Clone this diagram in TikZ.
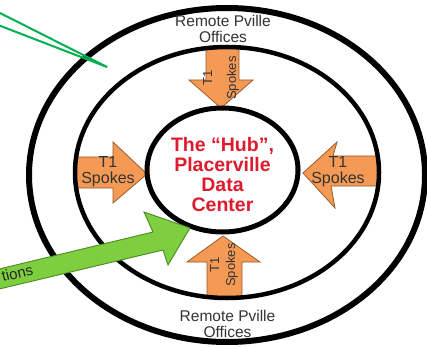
\documentclass[tikz,border=0pt]{standalone}
\usepackage{fontspec}
\setmainfont{Liberation Sans}
\definecolor{spokefill}{HTML}{F59A55}
\definecolor{spokeline}{HTML}{9A5A2C}
\definecolor{hubred}{HTML}{DE1B2D}
\definecolor{limefill}{HTML}{7DCF3F}
\definecolor{limeline}{HTML}{4A8A22}
\definecolor{calloutgreen}{HTML}{00B050}
\definecolor{txtgray}{HTML}{333333}
\begin{document}
\begin{tikzpicture}[x=1pt,y=-1pt,
  ring/.style={draw=black},
  spokeshape/.style={fill=spokefill,draw=spokeline,line width=0.8pt,line join=miter},
  spoketext/.style={align=center,inner sep=0pt,text=txtgray},
  remotetext/.style={align=center,inner sep=0pt,text=txtgray,font=\fontsize{15.5}{16.5}\selectfont},
  hubtext/.style={align=center,inner sep=0pt,text=hubred,font=\fontsize{19.5}{20}\selectfont\bfseries},
  bigarrow/.style={fill=limefill,draw=limeline,line width=0.9pt,line join=miter},
  callout/.style={draw=calloutgreen,line width=2pt}
]
\useasboundingbox (0,0) rectangle (427,347);
\fill[white] (0,0) rectangle (427,347);
\begin{scope}
\clip (0,0) rectangle (427,347);
% orange spokes
\draw[spokeshape] (206,47) -- (239,47) -- (239,80) -- (253,80) -- (221,108) -- (189,80) -- (206,80) -- cycle;
\draw[spokeshape] (207,298) -- (207,262) -- (187,262) -- (223,236) -- (260,262) -- (242,262) -- (242,298) -- cycle;
\draw[spokeshape] (75,157) -- (113,157) -- (113,142) -- (147,174) -- (113,203) -- (113,188) -- (75,188) -- cycle;
\draw[spokeshape] (379,156) -- (333,156) -- (337,142) -- (303,173) -- (335,208) -- (331,186) -- (379,186) -- cycle;
% rings
\draw[ring,line width=6pt] (227,175) ellipse [x radius=198pt, y radius=167pt];
\draw[ring,line width=4.5pt] (227,172.5) ellipse [x radius=152pt, y radius=125.5pt];
\draw[ring,line width=5pt] (222.5,170) ellipse [x radius=75.5pt, y radius=62pt];
% texts
\node[spoketext,rotate=90,font=\fontsize{13}{24}\selectfont] (sptop) at (221,78) {T1\\Spokes};
\node[spoketext,rotate=90,font=\fontsize{13}{16}\selectfont] (spbot) at (224,265) {T1\\Spokes};
\node[spoketext,font=\fontsize{16}{16}\selectfont] (spleft) at (108,172) {T1\\Spokes};
\node[spoketext,font=\fontsize{16}{16}\selectfont] (spright) at (338,172) {T1\\Spokes};
\node[remotetext] (rtop) at (223,29) {Remote Pville\\Offices};
\node[remotetext] (rbot) at (227.5,324) {Remote Pville\\Offices};
\node[hubtext] (hub) at (222.5,175) {The “Hub”,\\Placerville\\Data\\Center};
% callout lines
\coordinate (cA) at (-2,12);
\coordinate (cB) at (-2,25);
\coordinate (cT) at (107,67);
\draw[callout] (cA) -- (cT);
\draw[callout] (cB) -- (cT);
% big green arrow
\draw[bigarrow] (-5,270) -- (153,232) -- (144,212) -- (190,228) -- (168,265) -- (163,250) -- (-5,290) -- cycle;
\node[anchor=base west,rotate=13.6,inner sep=0pt,text=black!85,font=\fontsize{15}{15}\selectfont] (tions) at (3,282) {tions};
\end{scope}
\end{tikzpicture}
\end{document}
